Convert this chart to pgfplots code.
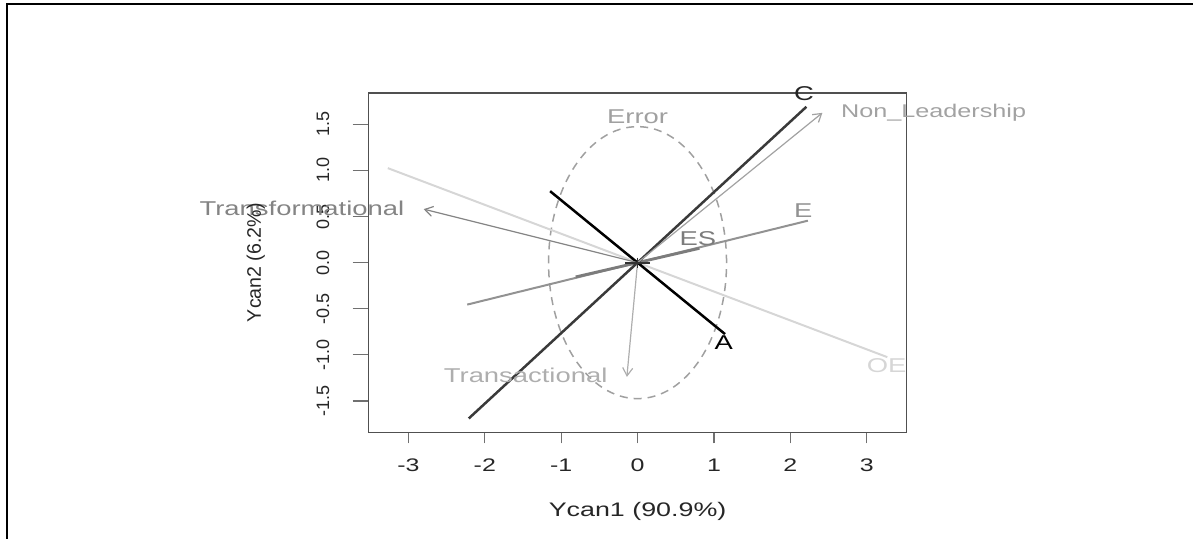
\documentclass[border=0pt]{standalone}
\usepackage{pgfplots}
\pgfplotsset{compat=1.18}
\usepackage{fontspec}
\setmainfont{Liberation Sans}
\newfontfamily\wide{Liberation Sans}[FakeStretch=1.37]
\usetikzlibrary{arrows.meta}
\definecolor{boxgray}{HTML}{505050}
\definecolor{tickgray}{HTML}{707070}
\definecolor{cline}{HTML}{3A3A3A}
\definecolor{eline}{HTML}{929292}
\definecolor{esline}{HTML}{7C7C7C}
\definecolor{oeline}{HTML}{D6D6D6}
\definecolor{errgray}{HTML}{A0A0A0}
\definecolor{tfgray}{HTML}{848484}
\definecolor{nlgray}{HTML}{A2A2A2}
\definecolor{tagray}{HTML}{AEAEAE}
\begin{document}
\begin{tikzpicture}
\useasboundingbox (0pt,0pt) rectangle (596.5pt,269.5pt);
\draw[line width=1pt] (3.5pt,0pt) -- (3.5pt,267.5pt) -- (596.5pt,267.5pt);
% axis carrying x ticks
\begin{axis}[at={(184.35pt,53.35pt)}, anchor=south west, scale only axis,
  width=268.85pt, height=169.65pt,
  xmin=-3.52, xmax=3.52, ymin=-1.84, ymax=1.84,
  axis line style={draw=none},
  ytick=\empty, xtick={-3,-2,-1,0,1,2,3},
  xticklabels={-3,-2,-1,0,1,2,3},
  tick align=outside, major tick length=5.5pt,
  xtick style={draw=tickgray, line width=0.6pt},
  xtick pos=bottom,
  xticklabel style={font=\fontsize{9.1}{10}\wide, text=black!85, anchor=base, yshift=-14.2pt},
  xlabel={Ycan1 (90.9\%)},
  xlabel style={font=\fontsize{9.8}{11}\wide, text=black!85, anchor=base, at={(axis description cs:0.5,0)}, yshift=-42.2pt},
]
\addplot[draw=none] coordinates {(0,0)};
\end{axis}
% main axis
\begin{axis}[at={(184.35pt,53.35pt)}, anchor=south west, scale only axis,
  width=268.85pt, height=169.65pt,
  xmin=-3.52, xmax=3.52, ymin=-1.84, ymax=1.84,
  clip=false,
  axis line style={draw=boxgray, line width=0.7pt},
  xtick=\empty, ytick={-1.5,-1,-0.5,0,0.5,1,1.5},
  yticklabels={-1.5,-1.0,-0.5,0.0,0.5,1.0,1.5},
  tick align=outside, major tick length=8pt,
  ytick style={draw=tickgray, line width=0.6pt},
  ytick pos=left,
  yticklabel style={font=\fontsize{9}{10}\selectfont, text=black!85, xshift=-11.75pt, rotate=90, anchor=base},
  ylabel={Ycan2 (6.2\%)},
  ylabel style={font=\fontsize{9.8}{11}\selectfont, text=black!85, at={(axis description cs:0,0.5)}, anchor=base, yshift=53.9pt},
]
% Error ellipse
\draw[errgray, line width=0.75pt, dash pattern=on 4pt off 3pt] (axis cs:0,0) ellipse [x radius=1.165, y radius=1.475];
% hypothesis lines
\addplot[oeline, line width=1pt] coordinates {(-3.27,1.025) (3.27,-1.025)};
\addplot[eline, line width=1pt] coordinates {(-2.23,-0.455) (2.23,0.455)};
\addplot[esline, line width=1.4pt] coordinates {(-0.81,-0.155) (0.81,0.155)};
\addplot[cline, line width=1.25pt] coordinates {(-2.21,-1.69) (2.21,1.69)};
\addplot[black, line width=1.25pt] coordinates {(-1.145,0.775) (1.145,-0.775)};
% variable arrows
\addplot[tfgray, line width=0.6pt, -{Straight Barb[length=4pt,width=5pt]}] coordinates {(0,0) (-2.80,0.58)};
\addplot[nlgray, line width=0.6pt, -{Straight Barb[length=4pt,width=5pt]}] coordinates {(0,0) (2.42,1.625)};
\addplot[tagray, line width=0.6pt, -{Straight Barb[length=4pt,width=5pt]}] coordinates {(0,0) (-0.14,-1.24)};
% centre mark
\addplot[only marks, mark=+, mark size=6.25pt, mark options={yscale=0.4, line width=0.9pt, draw=black!80}] coordinates {(0,0)};
% labels
\node[font=\fontsize{10}{11}\wide, text=black!85, anchor=base] at (axis cs:2.18,1.76) {C};
\node[font=\fontsize{10}{11}\wide, text=black, anchor=base] at (axis cs:1.13,-0.946) {A};
\node[font=\fontsize{10}{11}\wide, text=eline, anchor=base] at (axis cs:2.17,0.49) {E};
\node[font=\fontsize{10}{11}\wide, text=esline, anchor=base] at (axis cs:0.79,0.19) {ES};
\node[font=\fontsize{10}{11}\wide, text=oeline, anchor=base] at (axis cs:3.26,-1.19) {OE};
\node[font=\fontsize{10}{11}\wide, text=errgray, anchor=base] at (axis cs:0,1.51) {Error};
\node[font=\fontsize{9.2}{11}\wide, text=nlgray, anchor=base west, inner sep=0pt] at (axis cs:2.66,1.575) {Non\_Leadership};
\node[font=\fontsize{10}{11}\wide, text=tfgray, anchor=base east, inner sep=0pt] at (axis cs:-3.05,0.506) {Transformational};
\node[font=\fontsize{10}{11}\wide, text=tagray, anchor=base east, inner sep=0pt] at (axis cs:-0.39,-1.30) {Transactional};
\end{axis}
\end{tikzpicture}
\end{document}
